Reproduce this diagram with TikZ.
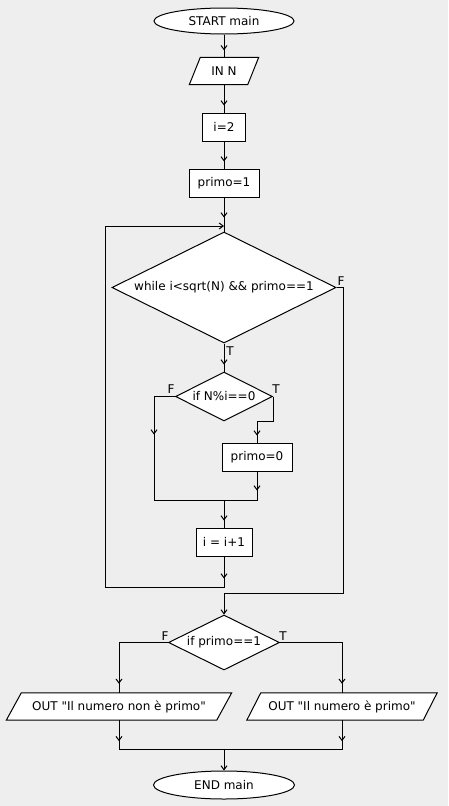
\documentclass[tikz,border=0pt]{standalone}
\usepackage{fontspec}
\newfontfamily\dvfont{DejaVu Sans}
\usetikzlibrary{shapes.geometric,arrows.meta,decorations.markings,backgrounds}
\definecolor{bggray}{RGB}{238,238,238}
\newcommand\ioshape[2]{%
  \draw[shp] ([xshift=#2]#1.north west) -- ([xshift=#2]#1.north east)
    -- ([xshift=-#2]#1.south east) -- ([xshift=-#2]#1.south west) -- cycle;}
\begin{document}
\begin{tikzpicture}[x=1pt,y=-1pt,
  every node/.style={font=\dvfont\fontsize{12}{14}\selectfont, inner sep=0pt},
  shp/.style={draw=black, line width=1pt, fill=white},
  term/.style={shp, ellipse, minimum width=140pt, minimum height=26pt},
  proc/.style={shp, rectangle, minimum height=28pt},
  dec/.style={shp, diamond, aspect=2},
  io/.style={rectangle, minimum height=27pt},
  lbl/.style={anchor=base},
  conn/.style={line width=1pt},
  tip/.style={-{Straight Barb[length=4pt,width=6pt]}},
  markarr/.style={postaction={decorate}, decoration={markings,
     mark=at position #1 with {\arrow{Straight Barb[length=4pt,width=6pt]}}}},
]
\useasboundingbox (0,0) rectangle (448,806);

% nodes
\node[term] (start) at (224,21) {START main};
\node[io, minimum width=58pt] (inN) at (224,71) {IN N};
\node[proc, minimum width=43pt] (i2) at (224,127) {i=2};
\node[proc, minimum width=70pt] (p1) at (224,183) {primo=1};
\node[dec, minimum width=224pt, minimum height=111pt] (wh) at (224,287.5) {while i<sqrt(N) \&\& primo==1};
\node[dec, minimum width=97pt, minimum height=49pt] (ifn) at (224,396.5) {if N\%i==0};
\node[proc, minimum width=70pt] (p0) at (257,457) {primo=0};
\node[proc, minimum width=56pt] (inc) at (224,542) {i = i+1};
\node[dec, minimum width=111pt, minimum height=55pt] (ifp) at (224,642.5) {if primo==1};
\node[io, minimum width=210pt] (outL) at (119,706.5) {OUT "Il numero non è primo"};
\node[io, minimum width=176pt] (outR) at (342,706.5) {OUT "Il numero è primo"};
\node[term, minimum width=141pt, minimum height=28pt] (end) at (224,785) {END main};

% labels
\node[lbl] (whT) at (230,355) {T};
\node[lbl] (whF) at (341,285) {F};
\node[lbl] (ifnF) at (171,393) {F};
\node[lbl] (ifnT) at (276,393) {T};
\node[lbl] (ifpF) at (165,640) {F};
\node[lbl] (ifpT) at (283,640) {T};

% background and parallelograms
\begin{pgfonlayer}{background}
  \fill[bggray] (0,0) rectangle (448,806);
  \ioshape{inN}{5.5pt}
  \ioshape{outL}{7.5pt}
  \ioshape{outR}{7pt}
\end{pgfonlayer}

% junction coordinates
\coordinate (loopL) at (105,587);
\coordinate (loopT) at (105,226);
\coordinate (wR) at (343,593);
\coordinate (fL) at (154,500);
\coordinate (mg) at (224,500);
\coordinate (mg2) at (224,749);

% connectors
\draw[conn, markarr=-7pt] (start.south) -- (inN.north);
\draw[conn, markarr=-7pt] (inN.south) -- (i2.north);
\draw[conn, markarr=-7pt] (i2.south) -- (p1.north);
\draw[conn, markarr=-14pt] (p1.south) -- (wh.north);
\draw[conn, markarr=22pt, tip] (inc.south) -- (inc.south |- loopL) -- (loopL) -- (loopT) -- (loopT -| wh.north);
\draw[conn, markarr=-7pt] (wh.south) -- (ifn.north);
\draw[conn, tip] (wh.east) -- (wh.east -| wR) -- (wR) -- (wR -| ifp.north) -- (ifp.north);
\draw[conn, markarr=59pt] (ifn.west) -- (ifn.west -| fL) -- (fL) -- (mg);
\draw[conn, markarr=-7pt] (ifn.east) -- (ifn.east |- ifn.south) -- (ifn.south -| p0.north) -- (p0.north);
\draw[conn, markarr=19pt] (p0.south) -- (p0.south |- mg) -- (mg);
\draw[conn, markarr=-7pt] (mg) -- (inc.north);
\draw[conn, markarr=-9pt] (ifp.west) -- (ifp.west -| outL.north) -- (outL.north);
\draw[conn, markarr=-9pt] (ifp.east) -- (ifp.east -| outR.north) -- (outR.north);
\draw[conn, markarr=21pt] (outL.south) -- (outL.south |- mg2) -- (mg2);
\draw[conn, markarr=21pt] (outR.south) -- (outR.south |- mg2) -- (mg2);
\draw[conn, tip] (mg2) -- (end.north);
\end{tikzpicture}
\end{document}
